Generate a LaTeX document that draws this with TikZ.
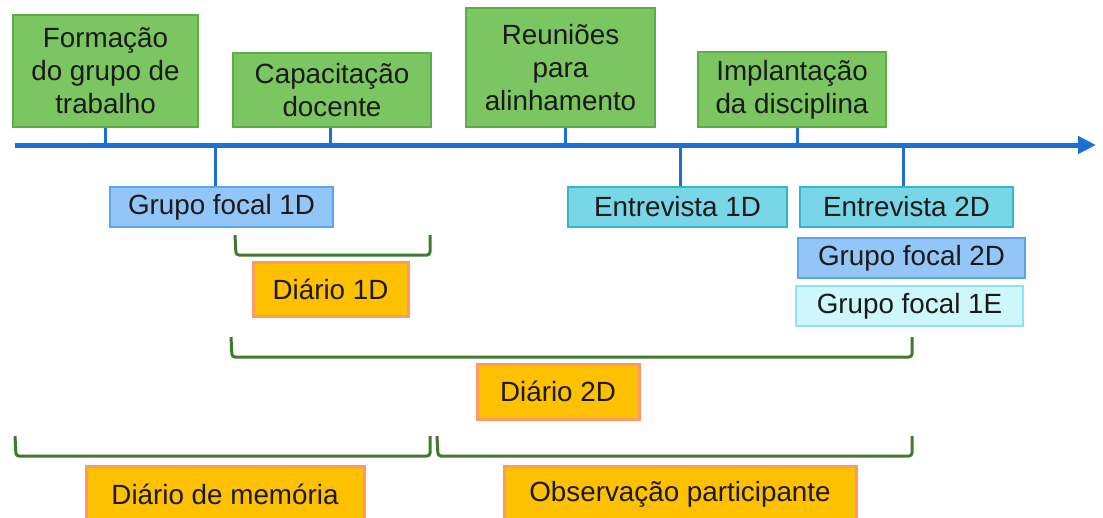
\documentclass[tikz,border=0pt]{standalone}
\usepackage{fontspec}
\setmainfont{Liberation Sans}
\usetikzlibrary{arrows.meta}
\definecolor{gfill}{HTML}{7CC662}
\definecolor{gdraw}{HTML}{5AAE48}
\definecolor{bfill}{HTML}{93C6F6}
\definecolor{bdraw}{HTML}{5AA6EE}
\definecolor{cfill}{HTML}{79D6E7}
\definecolor{cdraw}{HTML}{35B6CF}
\definecolor{lfill}{HTML}{CDF7FB}
\definecolor{ldraw}{HTML}{8CE2FA}
\definecolor{ofill}{HTML}{FFC000}
\definecolor{odraw}{HTML}{FF9A66}
\definecolor{axcol}{HTML}{1E6FD2}
\definecolor{brcol}{HTML}{3F7A2F}
\definecolor{txt}{HTML}{1A1A1A}
\begin{document}
\begin{tikzpicture}[x=1pt,y=-1pt,
  box/.style={inner sep=0pt, align=center, font=\fontsize{27.8}{33}\selectfont, text=txt},
  greenbox/.style={box, fill=gfill, draw=gdraw, line width=2pt},
  bluebox/.style={box, fill=bfill, draw=bdraw, line width=2pt},
  cyanbox/.style={box, fill=cfill, draw=cdraw, line width=2pt},
  lightbox/.style={box, fill=lfill, draw=ldraw, line width=2pt},
  orangebox/.style={box, fill=ofill, draw=odraw, line width=3pt},
  axisline/.style={draw=axcol, line width=5pt},
  tickline/.style={draw=axcol, line width=3pt},
  brk/.style={draw=brcol, line width=3pt, rounded corners=3pt}]
\clip (0,0) rectangle (1103,517);
\fill[white] (0,0) rectangle (1103,517);

% axis
\coordinate (axs) at (15,145);
\coordinate (axe) at (1096,145);
\draw[axisline, -{Triangle[length=18pt,width=17pt]}] (axs) -- (axe);

% top boxes
\node[greenbox, minimum width=185pt, minimum height=112pt] (form) at (105.5,71) {Formação\\do grupo de\\trabalho};
\node[greenbox, minimum width=198pt, minimum height=74pt] (capa) at (332,90) {Capacitação\\docente};
\node[greenbox, minimum width=189pt, minimum height=119pt] (reun) at (560.5,67.5) {Reuniões\\para\\alinhamento};
\node[greenbox, minimum width=188pt, minimum height=75pt] (impl) at (792,89.5) {Implantação\\da disciplina};

% lower boxes
\node[bluebox, minimum width=223pt, minimum height=40pt] (gf1d) at (221.5,207) {Grupo focal 1D};
\node[cyanbox, minimum width=219pt, minimum height=40pt] (ent1) at (677.5,207) {Entrevista 1D};
\node[cyanbox, minimum width=213pt, minimum height=40pt] (ent2) at (906.5,207) {Entrevista 2D};
\node[bluebox, minimum width=227pt, minimum height=40pt] (gf2d) at (911.5,258) {Grupo focal 2D};
\node[lightbox, minimum width=227pt, minimum height=40pt] (gf1e) at (909.5,306) {Grupo focal 1E};

% ticks
\foreach \n/\dx in {form/0,capa/-2,reun/4.5,impl/5}{
  \draw[tickline] ([xshift=\dx pt]\n.south) -- ([xshift=\dx pt]\n.south |- axs);
}
\foreach \n/\dx in {gf1d/-6,ent1/2.5,ent2/-3.5}{
  \draw[tickline] ([xshift=\dx pt]\n.north) -- ([xshift=\dx pt]\n.north |- axs);
}

% brackets
\coordinate (b1l) at (235,235); \coordinate (b1r) at (430,235);
\coordinate (b2l) at (231,337); \coordinate (b2r) at (912,337);
\coordinate (b3l) at (15,436);  \coordinate (b3r) at (430,436);
\coordinate (b4l) at (437,436); \coordinate (b4r) at (912,436);
\draw[brk] (b1l) -- ++(1,20) -| (b1r);
\draw[brk] (b2l) -- ++(1,20) -| (b2r);
\draw[brk] (b3l) -- ++(1,20) -| (b3r);
\draw[brk] (b4l) -- ++(1,20) -| (b4r);

% orange boxes
\node[orangebox, minimum width=155pt, minimum height=54pt] (d1d) at (330.5,289) {Diário 1D};
\node[orangebox, minimum width=162pt, minimum height=55pt] (d2d) at (558,391.5) {Diário 2D};
\node[orangebox, minimum width=278pt, minimum height=56pt] (dmem) at (225,494) {Diário de memória};
\node[orangebox, minimum width=352pt, minimum height=56pt] (dobs) at (680,494) {Observação participante};
\end{tikzpicture}
\end{document}
